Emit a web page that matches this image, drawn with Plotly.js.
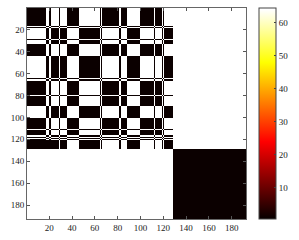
<!DOCTYPE html>
<html>
<head>
<meta charset="utf-8">
<script src="https://cdn.plot.ly/plotly-3.0.1.min.js"></script>
<style>html,body{margin:0;padding:0;background:#fff;}#chart{width:299px;height:240px;}</style>
</head>
<body>
<div id="chart"></div>
<script>
// Run-length band labels (length, group)
const colRuns = [[17,'A1'],[2,'B'],[2,'A1'],[7,'B'],[1,'A'],[6,'B'],[11,'A'],[18,'B'],[1,'A'],[1,'B'],[15,'A'],[1,'B'],[6,'A'],[11,'B'],[12,'A'],[1,'B'],[6,'A'],[1,'B'],[1,'A'],[8,'B'],[64,'D']];
const rowRuns = [[16,'A'],[1,'B'],[1,'A'],[10,'B'],[1,'A'],[4,'B'],[11,'A'],[20,'B'],[1,'A'],[1,'B'],[13,'A'],[1,'B'],[9,'A'],[11,'B'],[10,'A'],[1,'B'],[5,'A'],[1,'B'],[1,'A'],[1,'B'],[1,'A'],[8,'C'],[64,'D']];
// which column groups are "same" (dark) for each row group
const matchTable = {A:['A','A1'], B:['B'], C:['B','A1'], D:['D']};
const lowValue = 1;    // black
const highValue = 64;  // white
const cbTicks = [10,20,30,40,50,60];
const xTicks = [20,40,60,80,100,120,140,160,180];
const yTicks = [20,40,60,80,100,120,140,160,180];

function expand(runs){const out=[];runs.forEach(([n,g])=>{for(let i=0;i<n;i++)out.push(g);});return out;}
const colLab = expand(colRuns), rowLab = expand(rowRuns);
const xs = colLab.map((_,i)=>i+1), ys = rowLab.map((_,i)=>i+1);
const z = rowLab.map(r => colLab.map(c => matchTable[r].includes(c) ? lowValue : highValue));

const hot = [[0,'rgb(10,0,0)'],[0.5/64,'rgb(11,0,0)'],[23.5/64,'rgb(255,0,0)'],[47.5/64,'rgb(255,255,0)'],[63.5/64,'rgb(255,255,255)'],[1,'rgb(255,255,255)']];
const font = {family:'Liberation Serif, Times New Roman, serif', size:9, color:'#222'};
const axisCommon = {showgrid:false, zeroline:false, ticks:'inside', ticklen:3, tickcolor:'#555',
  showline:true, linecolor:'#666', linewidth:1, mirror:'ticks', tickfont:font};

Plotly.newPlot('chart', [{
  type:'heatmap', z:z, x:xs, y:ys, zmin:0.5, zmax:64.5, colorscale:hot,
  colorbar:{x:(261-27)/221, xanchor:'left', xpad:0, ypad:0, y:0.5, len:1, thickness:17,
    outlinewidth:1, outlinecolor:'#444', ticks:'inside', ticklen:2, tickcolor:'#444',
    tickvals:cbTicks, tickfont:font}
}], {
  width:299, height:240, margin:{l:27, r:51, t:8, b:21}, paper_bgcolor:'#fff', plot_bgcolor:'#fff',
  xaxis:Object.assign({range:[0.5,192.5], tickvals:xTicks}, axisCommon),
  yaxis:Object.assign({range:[192.5,0.5], tickvals:yTicks}, axisCommon),
  font:font
}, {displayModeBar:false, staticPlot:true});
</script>
</body>
</html>
